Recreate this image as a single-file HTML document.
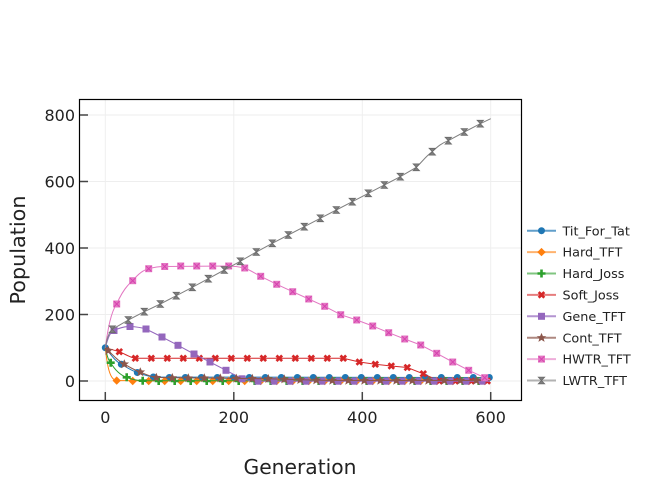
<!DOCTYPE html>
<html><head><meta charset="utf-8"><style>
html,body{margin:0;padding:0;background:#fff;}
svg{display:block;}
text{font-family:"DejaVu Sans","Liberation Sans",sans-serif;fill:#222;}
</style></head><body>
<svg width="650" height="480" viewBox="0 0 650 480" xmlns="http://www.w3.org/2000/svg">
<defs>
<marker id="mB" markerUnits="userSpaceOnUse" markerWidth="10" markerHeight="10" refX="5" refY="5" overflow="visible"><circle cx="5" cy="5" r="3.5" fill="#1f77b4"/></marker>
<marker id="mO" markerUnits="userSpaceOnUse" markerWidth="10" markerHeight="10" refX="5" refY="5" overflow="visible"><path d="M5,0.8 L9.2,5 L5,9.2 L0.8,5 Z" fill="#ff7f0e"/></marker>
<marker id="mG" markerUnits="userSpaceOnUse" markerWidth="10" markerHeight="10" refX="5" refY="5" overflow="visible"><path d="M3.7,1 H6.3 V3.7 H9 V6.3 H6.3 V9 H3.7 V6.3 H1 V3.7 H3.7 Z" fill="#2ca02c"/></marker>
<marker id="mR" markerUnits="userSpaceOnUse" markerWidth="10" markerHeight="10" refX="5" refY="5" overflow="visible"><path d="M2.2,2.2 L7.8,7.8 M7.8,2.2 L2.2,7.8" stroke="#d62728" stroke-width="2.7" stroke-linecap="butt"/></marker>
<marker id="mP" markerUnits="userSpaceOnUse" markerWidth="10" markerHeight="10" refX="5" refY="5" overflow="visible"><rect x="1.5" y="1.5" width="7" height="7" fill="#9467bd"/></marker>
<marker id="mBr" markerUnits="userSpaceOnUse" markerWidth="10" markerHeight="10" refX="5" refY="5" overflow="visible"><path d="M5,0.2 L6.4,3.4 L9.8,3.5 L7.1,5.7 L8.1,9.2 L5,7.2 L1.9,9.2 L2.9,5.7 L0.2,3.5 L3.6,3.4 Z" fill="#8c564b"/></marker>
<marker id="mK" markerUnits="userSpaceOnUse" markerWidth="10" markerHeight="10" refX="5" refY="5" overflow="visible"><rect x="1.5" y="1.5" width="7" height="7" fill="#e377c2"/><path d="M2.2,2.2 L7.8,7.8 M7.8,2.2 L2.2,7.8" stroke="#d63fae" stroke-width="0.9"/></marker>
<marker id="mY" markerUnits="userSpaceOnUse" markerWidth="10" markerHeight="10" refX="5" refY="5" overflow="visible"><path d="M1.8,1.6 H8.2 L1.8,8.4 H8.2 Z" fill="#7f7f7f" stroke="#6a6a6a" stroke-width="0.8"/></marker>
</defs>

<!-- grid -->
<g stroke="#eeeeee" stroke-width="1">
<line x1="105.3" y1="100" x2="105.3" y2="400"/>
<line x1="233.8" y1="100" x2="233.8" y2="400"/>
<line x1="362.3" y1="100" x2="362.3" y2="400"/>
<line x1="490.7" y1="100" x2="490.7" y2="400"/>
<line x1="80" y1="115" x2="521" y2="115"/>
<line x1="80" y1="181.5" x2="521" y2="181.5"/>
<line x1="80" y1="248" x2="521" y2="248"/>
<line x1="80" y1="314.5" x2="521" y2="314.5"/>
<line x1="80" y1="381" x2="521" y2="381"/>
</g>

<!-- Tit_For_Tat -->
<path d="M105.3,347.7 C112,356 115,361 121.3,364.3 C128,368 132,371 137.3,372.5 C143,374.5 148,376.3 153.3,377 L489.3,377.5" fill="none" stroke="#1f77b4" stroke-width="1"/>
<polyline fill="none" stroke="none" marker-start="url(#mB)" marker-mid="url(#mB)" marker-end="url(#mB)" points="105.3,347.7 121.3,364.3 137.3,372.5 153.3,377 169.3,377.5 185.3,377.5 201.3,377.5 217.3,377.5 233.3,377.5 249.3,377.5 265.3,377.5 281.3,377.5 297.3,377.5 313.3,377.5 329.3,377.5 345.3,377.5 361.3,377.5 377.3,377.5 393.3,377.5 409.3,377.5 425.3,377.5 441.3,377.5 457.3,377.5 473.3,377.5 489.3,377.5"/>

<!-- Hard_TFT -->
<path d="M105.3,347.7 C107.5,368 110,380 116.7,380.6 L490,381" fill="none" stroke="#ff7f0e" stroke-width="1"/>
<polyline fill="none" stroke="none" marker-start="url(#mO)" marker-mid="url(#mO)" marker-end="url(#mO)" points="116.7,380.6 132.7,381 148.7,381 164.7,381 180.7,381 196.7,381 212.7,381 228.7,381 244.7,381 260.7,381 276.7,381 292.7,381 308.7,381 324.7,381 340.7,381 356.7,381 372.7,381 388.7,381 404.7,381 420.7,381 436.7,381 452.7,381 468.7,381 484.7,381"/>

<!-- Hard_Joss -->
<path d="M105.3,347.7 C107,355 108,360 110.7,362.7 C115,370 120,375 126.7,377.3 C132,379.5 137,380.5 142.7,380.7 L490,381" fill="none" stroke="#2ca02c" stroke-width="1"/>
<polyline fill="none" stroke="none" marker-start="url(#mG)" marker-mid="url(#mG)" marker-end="url(#mG)" points="110.7,362.7 126.7,377.3 142.7,380.7 158.7,381 174.7,381 190.7,381 206.7,381 222.7,381 238.7,381 254.7,381 270.7,381 286.7,381 302.7,381 318.7,381 334.7,381 350.7,381 366.7,381 382.7,381 398.7,381 414.7,381 430.7,381 446.7,381 462.7,381 478.7,381"/>

<!-- Soft_Joss -->
<path d="M105.3,347.7 L119.3,351.7 C126,354.5 130,357.5 135.3,358.3 L343.3,358.3 L359.3,362 L375.3,364.3 L391.3,366 L407.3,367.5 L423.3,373.8 L439.3,381 L490,381" fill="none" stroke="#d62728" stroke-width="1"/>
<polyline fill="none" stroke="none" marker-start="url(#mR)" marker-mid="url(#mR)" marker-end="url(#mR)" points="119.3,351.7 135.3,358.3 151.3,358.3 167.3,358.3 183.3,358.3 199.3,358.3 215.3,358.3 231.3,358.3 247.3,358.3 263.3,358.3 279.3,358.3 295.3,358.3 311.3,358.3 327.3,358.3 343.3,358.3 359.3,362 375.3,364.3 391.3,366 407.3,367.5 423.3,373.8 439.3,381 455.3,381 471.3,381 487.3,381"/>

<!-- Gene_TFT -->
<path d="M105.3,347.7 C108,338 110,332 114,330.5 C120,327.5 125,326.5 130,326.5 C137,326.8 141,327.5 146,329 L162,337 L178,345.3 L194,354 L210,362 L226,370.3 L242,378.8 C248,380.5 252,381.2 258,381.2 L490,381.2" fill="none" stroke="#9467bd" stroke-width="1"/>
<polyline fill="none" stroke="none" marker-start="url(#mP)" marker-mid="url(#mP)" marker-end="url(#mP)" points="114,330.5 130,326.5 146,329 162,337 178,345.3 194,354 210,362 226,370.3 242,378.8 258,381.2 274,381.2 290,381.2 306,381.2 322,381.2 338,381.2 354,381.2 370,381.2 386,381.2 402,381.2 418,381.2 434,381.2 450,381.2 466,381.2 482,381.2"/>

<!-- Cont_TFT -->
<path d="M105.3,347.7 L108.3,350.5 C114,356 118,361 124.3,364 C130,367.5 134,370 140.3,372 C146,374.5 150,376.5 156.3,377.5 L172.3,377.8 L220.3,378.2 L268.3,378.8 L300.3,379.8 L332.3,380.5 L490,380.5" fill="none" stroke="#8c564b" stroke-width="1"/>
<polyline fill="none" stroke="none" marker-start="url(#mBr)" marker-mid="url(#mBr)" marker-end="url(#mBr)" points="108.3,350.5 124.3,364 140.3,372 156.3,377.5 172.3,377.8 188.3,378 204.3,378 220.3,378.2 236.3,378.4 252.3,378.6 268.3,378.8 284.3,379.2 300.3,379.8 316.3,380.2 332.3,380.5 348.3,380.5 364.3,380.5 380.3,380.5 396.3,380.5 412.3,380.5 428.3,380.5 444.3,380.5 460.3,380.5 476.3,380.5"/>

<!-- HWTR_TFT -->
<path d="M105.3,347.7 C108,328 111,312 116.7,304 C121,294 126,286 132.7,280.7 C138,274 143,270 148.7,268.7 C155,267 160,266.5 164.7,266.5 L228.7,266 C236,266.3 240,267 244.7,268 C251,270.5 255,273.5 260.7,276.3 L276.7,284.3 L292.7,291.7 L308.7,299 L324.7,306.3 L340.7,314.7 L356.7,320 L372.7,326 L388.7,332.7 L404.7,339 L420.7,345 L436.7,353.3 L452.7,362 L468.7,370.3 L484.7,377.7 L490,380" fill="none" stroke="#e377c2" stroke-width="1"/>
<polyline fill="none" stroke="none" marker-start="url(#mK)" marker-mid="url(#mK)" marker-end="url(#mK)" points="116.7,304 132.7,280.7 148.7,268.7 164.7,266.5 180.7,266 196.7,266 212.7,266 228.7,266 244.7,268 260.7,276.3 276.7,284.3 292.7,291.7 308.7,299 324.7,306.3 340.7,314.7 356.7,320 372.7,326 388.7,332.7 404.7,339 420.7,345 436.7,353.3 452.7,362 468.7,370.3 484.7,377.7"/>

<!-- LWTR_TFT -->
<path d="M105.3,347.7 C107,338 109,332 112.3,329.3 L128.3,320 L144.3,311.7 L160.3,304 L176.3,295.7 L192.3,287.3 L208.3,278.7 L224.3,270 L240.3,261.3 L256.3,252 L272.3,243.3 L288.3,235 L304.3,226.7 L320.3,218.3 L336.3,210 L352.3,201.7 L368.3,193.3 L384.3,185 L400.3,176.7 L416.3,167.3 C422,162 426,156 432.3,151.7 C438,146 442,143 448.3,140.7 L464.3,132 L480.3,123.7 L490.7,118.7" fill="none" stroke="#7f7f7f" stroke-width="1"/>
<polyline fill="none" stroke="none" marker-start="url(#mY)" marker-mid="url(#mY)" marker-end="url(#mY)" points="112.3,329.3 128.3,320 144.3,311.7 160.3,304 176.3,295.7 192.3,287.3 208.3,278.7 224.3,270 240.3,261.3 256.3,252 272.3,243.3 288.3,235 304.3,226.7 320.3,218.3 336.3,210 352.3,201.7 368.3,193.3 384.3,185 400.3,176.7 416.3,167.3 432.3,151.7 448.3,140.7 464.3,132 480.3,123.7"/>

<!-- frame -->
<rect x="79.5" y="99.5" width="442" height="301" fill="none" stroke="#000" stroke-width="1.2"/>

<!-- ticks -->
<g stroke="#444" stroke-width="1.5">
<line x1="80" y1="115" x2="88" y2="115"/>
<line x1="80" y1="181.5" x2="88" y2="181.5"/>
<line x1="80" y1="248" x2="88" y2="248"/>
<line x1="80" y1="314.5" x2="88" y2="314.5"/>
<line x1="80" y1="381" x2="88" y2="381"/>
<line x1="105.3" y1="392" x2="105.3" y2="400"/>
<line x1="233.8" y1="392" x2="233.8" y2="400"/>
<line x1="362.3" y1="392" x2="362.3" y2="400"/>
<line x1="490.7" y1="392" x2="490.7" y2="400"/>
</g>

<!-- tick labels -->
<g font-size="16" text-anchor="end">
<text x="75" y="120.8">800</text>
<text x="75" y="187.3">600</text>
<text x="75" y="253.8">400</text>
<text x="75" y="320.3">200</text>
<text x="75" y="386.8">0</text>
</g>
<g font-size="16" text-anchor="middle">
<text x="105.3" y="422.8">0</text>
<text x="233.8" y="422.8">200</text>
<text x="362.3" y="422.8">400</text>
<text x="490.7" y="422.8">600</text>
</g>

<!-- axis titles -->
<text x="300" y="474" font-size="20" text-anchor="middle" textLength="113" lengthAdjust="spacingAndGlyphs">Generation</text>
<text transform="translate(25,250) rotate(-90)" font-size="20" text-anchor="middle" textLength="109" lengthAdjust="spacingAndGlyphs">Population</text>

<!-- legend -->
<g font-size="12.8">
<line x1="527" y1="230.7" x2="556" y2="230.7" stroke="#1f77b4" stroke-width="2" opacity="0.7"/>
<polyline points="541.5,230.7 541.6,230.7" fill="none" marker-start="url(#mB)"/>
<text x="562.5" y="235.3">Tit_For_Tat</text>
<line x1="527" y1="252.1" x2="556" y2="252.1" stroke="#ff7f0e" stroke-width="2" opacity="0.6"/>
<polyline points="541.5,252.1 541.6,252.1" fill="none" marker-start="url(#mO)"/>
<text x="562.5" y="256.7">Hard_TFT</text>
<line x1="527" y1="273.5" x2="556" y2="273.5" stroke="#2ca02c" stroke-width="2" opacity="0.6"/>
<polyline points="541.5,273.5 541.6,273.5" fill="none" marker-start="url(#mG)"/>
<text x="562.5" y="278.1">Hard_Joss</text>
<line x1="527" y1="294.9" x2="556" y2="294.9" stroke="#d62728" stroke-width="2" opacity="0.6"/>
<polyline points="541.5,294.9 541.6,294.9" fill="none" marker-start="url(#mR)"/>
<text x="562.5" y="299.5">Soft_Joss</text>
<line x1="527" y1="316.3" x2="556" y2="316.3" stroke="#9467bd" stroke-width="2" opacity="0.7"/>
<polyline points="541.5,316.3 541.6,316.3" fill="none" marker-start="url(#mP)"/>
<text x="562.5" y="320.9">Gene_TFT</text>
<line x1="527" y1="337.7" x2="556" y2="337.7" stroke="#8c564b" stroke-width="2" opacity="0.7"/>
<polyline points="541.5,337.7 541.6,337.7" fill="none" marker-start="url(#mBr)"/>
<text x="562.5" y="342.3">Cont_TFT</text>
<line x1="527" y1="359.1" x2="556" y2="359.1" stroke="#e377c2" stroke-width="2" opacity="0.6"/>
<polyline points="541.5,359.1 541.6,359.1" fill="none" marker-start="url(#mK)"/>
<text x="562.5" y="363.7">HWTR_TFT</text>
<line x1="527" y1="380.5" x2="556" y2="380.5" stroke="#7f7f7f" stroke-width="2" opacity="0.6"/>
<polyline points="541.5,380.5 541.6,380.5" fill="none" marker-start="url(#mY)"/>
<text x="562.5" y="385.1">LWTR_TFT</text>
</g>
</svg>
</body></html>
